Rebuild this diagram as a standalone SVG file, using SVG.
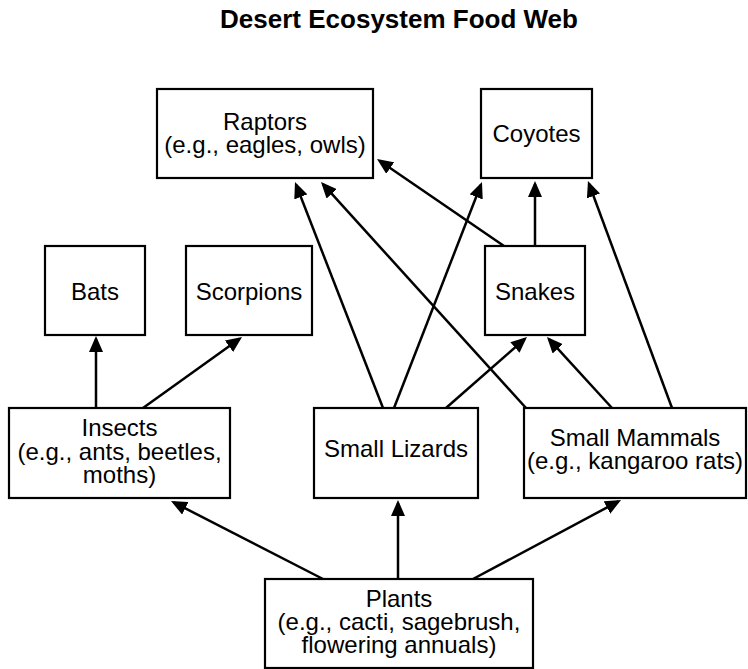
<svg xmlns="http://www.w3.org/2000/svg" width="748" height="669" viewBox="0 0 748 669">
<style>
.box{fill:#fff;stroke:#000;stroke-width:2.2}
.lbl{font-family:"Liberation Sans",Arial,sans-serif;font-size:24px;fill:#000;text-anchor:middle}
.title{font-family:"Liberation Sans",Arial,sans-serif;font-size:26px;font-weight:bold;fill:#000;text-anchor:middle}
.edge{stroke:#000;stroke-width:2.5;fill:none;marker-end:url(#arr)}
</style>
<defs>
<marker id="arr" markerUnits="userSpaceOnUse" markerWidth="16" markerHeight="14" refX="13" refY="7" orient="auto">
<path d="M0,0 L16,7 L0,14 z" fill="#000"/>
</marker>
</defs>
<rect width="748" height="669" fill="#fff"/>
<text class="title" x="399" y="28">Desert Ecosystem Food Web</text>
<g id="connectors">
<line class="edge" x1="96" y1="408" x2="96" y2="339"/>
<line class="edge" x1="143" y1="408" x2="239.6" y2="338.7"/>
<line class="edge" x1="323" y1="579" x2="173.7" y2="502.4"/>
<line class="edge" x1="398" y1="579" x2="398" y2="503"/>
<line class="edge" x1="473" y1="579" x2="618.4" y2="501.4"/>
<line class="edge" x1="383" y1="408" x2="296.1" y2="184.8"/>
<line class="edge" x1="394" y1="408" x2="480.9" y2="184.8"/>
<line class="edge" x1="446" y1="408" x2="524.7" y2="339"/>
<line class="edge" x1="526" y1="408" x2="323" y2="184.2"/>
<line class="edge" x1="612" y1="408" x2="549" y2="339.2"/>
<line class="edge" x1="672" y1="408" x2="589" y2="183.8"/>
<line class="edge" x1="535" y1="246" x2="535" y2="184"/>
<line class="edge" x1="504" y1="246" x2="379.5" y2="160.7"/>
</g>
<g id="raptors">
<rect class="box" x="157" y="89" width="216" height="89"/>
<text class="lbl"><tspan x="265" y="130">Raptors</tspan><tspan x="265" y="153">(e.g., eagles, owls)</tspan></text>
</g>
<g id="coyotes">
<rect class="box" x="481" y="89" width="111" height="89"/>
<text class="lbl" x="536.5" y="142">Coyotes</text>
</g>
<g id="bats">
<rect class="box" x="45" y="246" width="100" height="89"/>
<text class="lbl" x="95" y="300">Bats</text>
</g>
<g id="scorpions">
<rect class="box" x="186" y="246" width="126" height="89"/>
<text class="lbl" x="249" y="300">Scorpions</text>
</g>
<g id="snakes">
<rect class="box" x="485" y="246" width="100" height="89"/>
<text class="lbl" x="535" y="300">Snakes</text>
</g>
<g id="insects">
<rect class="box" x="9" y="408" width="221" height="90"/>
<text class="lbl"><tspan x="119.5" y="436">Insects</tspan><tspan x="119.5" y="459.5">(e.g., ants, beetles,</tspan><tspan x="119.5" y="483">moths)</tspan></text>
</g>
<g id="small-lizards">
<rect class="box" x="314" y="408" width="164" height="90"/>
<text class="lbl" x="396" y="457">Small Lizards</text>
</g>
<g id="small-mammals">
<rect class="box" x="524" y="408" width="222" height="90"/>
<text class="lbl"><tspan x="635" y="446">Small Mammals</tspan><tspan x="635" y="469">(e.g., kangaroo rats)</tspan></text>
</g>
<g id="plants">
<rect class="box" x="265" y="579" width="268" height="89"/>
<text class="lbl"><tspan x="399" y="607">Plants</tspan><tspan x="399" y="630">(e.g., cacti, sagebrush,</tspan><tspan x="399" y="653">flowering annuals)</tspan></text>
</g>
</svg>
